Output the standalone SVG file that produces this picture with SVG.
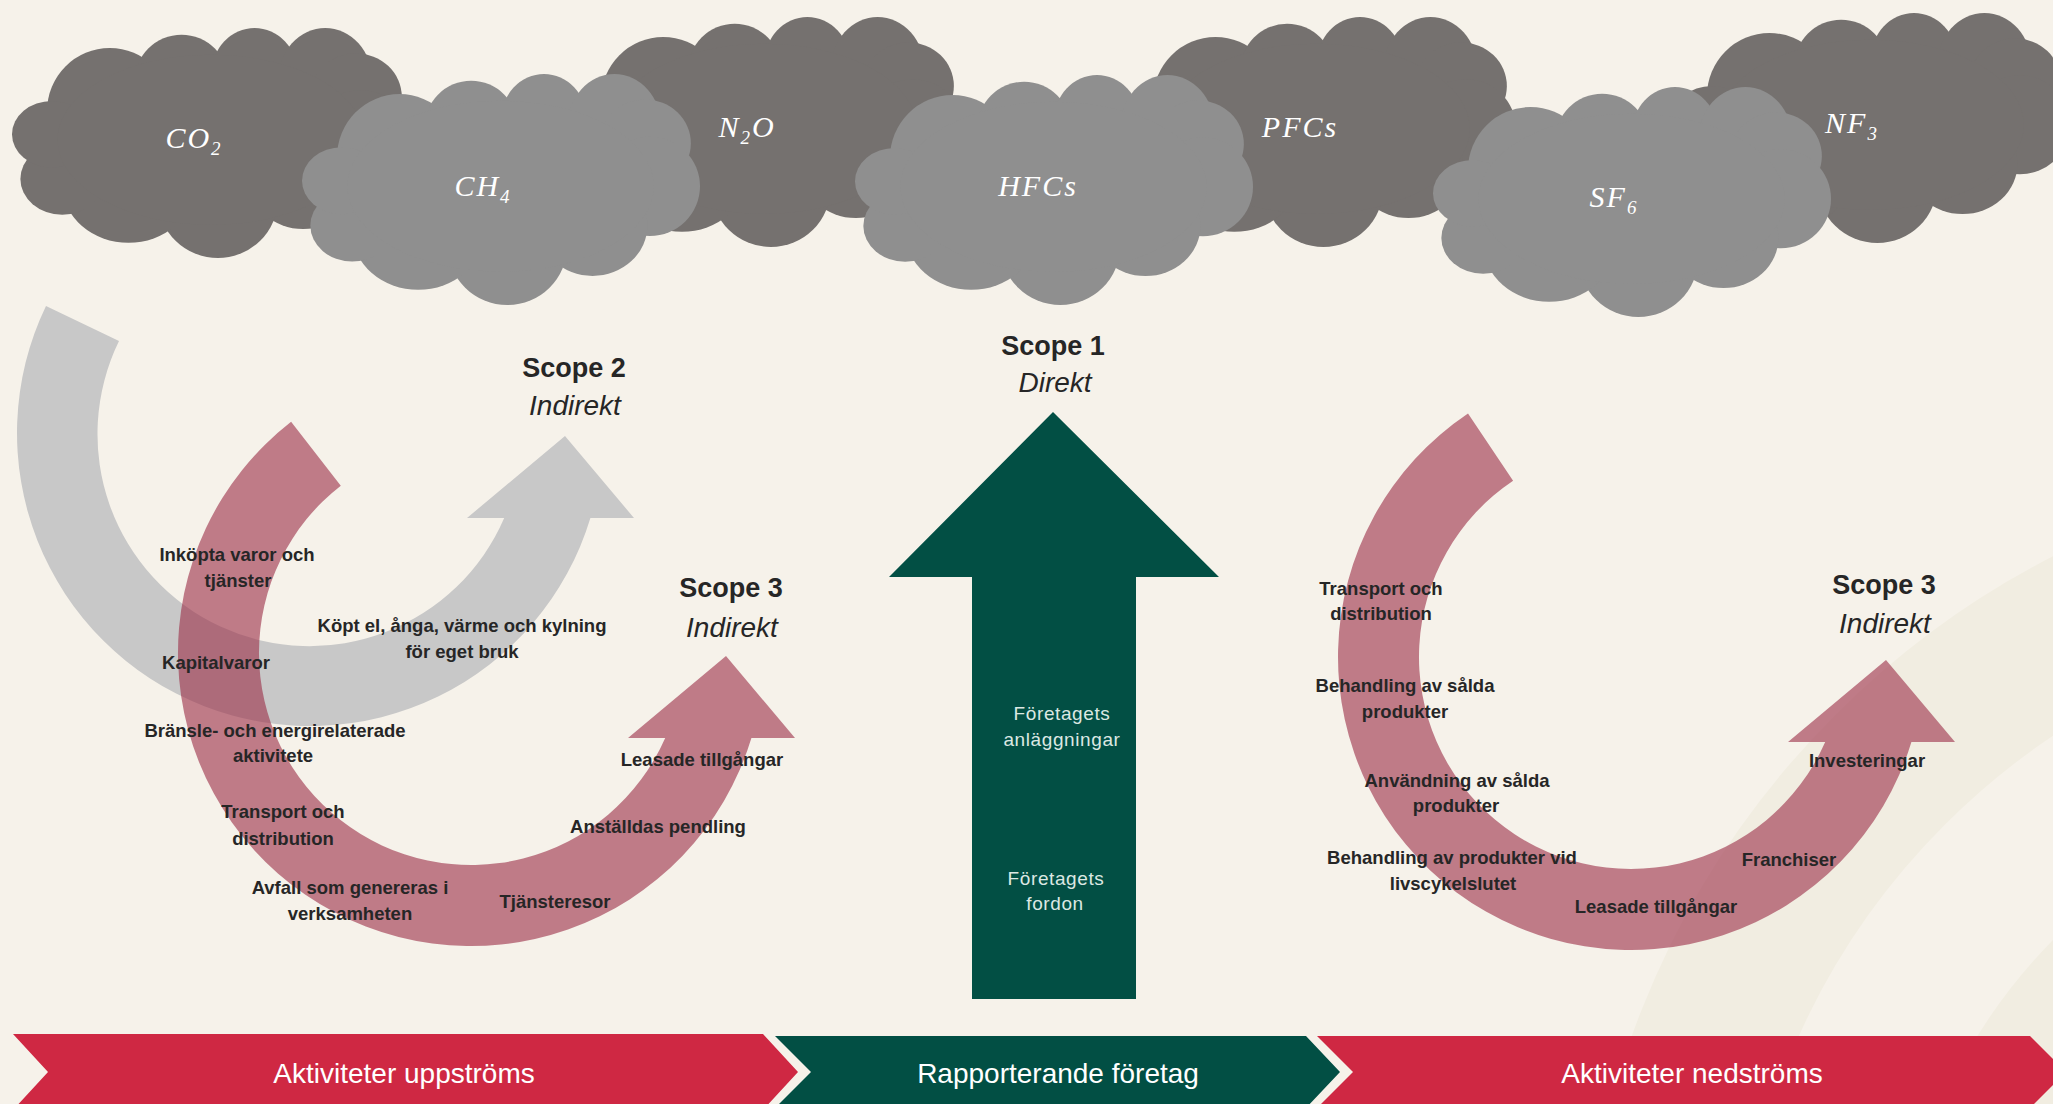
<svg xmlns="http://www.w3.org/2000/svg" xmlns:xlink="http://www.w3.org/1999/xlink" width="2053" height="1104" viewBox="0 0 2053 1104">
<defs>
<style>
.dark{fill:#75716F}
.light{fill:#8F8F8F}
.gas{font-family:"Liberation Serif","DejaVu Serif",serif;font-style:italic;font-size:30px;fill:#FFFFFF;letter-spacing:2px;text-anchor:middle}
.sub{font-size:19px}
.lbl{font-family:"Liberation Sans",Arial,sans-serif;font-weight:bold;font-size:18.5px;fill:#262626;text-anchor:middle}
.scope{font-family:"Liberation Sans",Arial,sans-serif;font-weight:bold;font-size:27px;fill:#262626;text-anchor:middle}
.ind{font-family:"Liberation Sans",Arial,sans-serif;font-style:italic;font-size:28px;fill:#262626;text-anchor:middle}
.wt{font-family:"Liberation Sans",Arial,sans-serif;font-size:19px;fill:#DCE8E3;letter-spacing:0.6px;text-anchor:middle}
.chev{font-family:"Liberation Sans",Arial,sans-serif;font-size:28px;fill:#FFFFFF;text-anchor:middle}
.redarc{fill:rgb(156,50,74);fill-opacity:0.62}
</style>
<symbol id="cloud" viewBox="0 0 1000 1000" preserveAspectRatio="none">
<ellipse cx="245" cy="360" rx="157" ry="273"/>
<ellipse cx="425" cy="235" rx="118" ry="206"/>
<ellipse cx="608" cy="200" rx="108" ry="200"/>
<ellipse cx="785" cy="228" rx="118" ry="228"/>
<ellipse cx="862" cy="300" rx="115" ry="190"/>
<ellipse cx="874" cy="486" rx="126" ry="215"/>
<ellipse cx="730" cy="655" rx="138" ry="219"/>
<ellipse cx="516" cy="744" rx="150" ry="256"/>
<ellipse cx="292" cy="686" rx="165" ry="248"/>
<ellipse cx="126" cy="656" rx="105" ry="156"/>
<ellipse cx="100" cy="462" rx="100" ry="145"/>
<ellipse cx="499" cy="486" rx="385" ry="370"/>
</symbol>
</defs>
<rect width="2053" height="1104" fill="#F6F2EA"/>
<g id="background-bands" fill="none" stroke="#F1EDE1">
<circle cx="2450" cy="1330" r="792" stroke-width="155"/>
<circle cx="2450" cy="1330" r="478" stroke-width="157"/>
</g>
<g id="clouds-back">
<g id="cloud-co2"><use xlink:href="#cloud" href="#cloud" class="dark" x="12" y="28" width="399" height="230"/><text class="gas" x="194" y="148">CO<tspan class="sub" dy="7">2</tspan></text></g>
<g id="cloud-n2o"><use xlink:href="#cloud" href="#cloud" class="dark" x="566" y="17" width="397" height="230"/><text class="gas" x="747" y="137">N<tspan class="sub" dy="7">2</tspan><tspan dy="-7">O</tspan></text></g>
<g id="cloud-pfcs"><use xlink:href="#cloud" href="#cloud" class="dark" x="1118" y="17" width="398" height="230"/><text class="gas" x="1300" y="137">PFCs</text></g>
<g id="cloud-nf3"><use xlink:href="#cloud" href="#cloud" class="dark" x="1672" y="13" width="398" height="230"/><text class="gas" x="1852" y="133">NF<tspan class="sub" dy="7">3</tspan></text></g>
</g>
<g id="clouds-front">
<g id="cloud-ch4"><use xlink:href="#cloud" href="#cloud" class="light" x="302" y="74" width="398" height="231"/><text class="gas" x="483" y="196">CH<tspan class="sub" dy="7">4</tspan></text></g>
<g id="cloud-hfcs"><use xlink:href="#cloud" href="#cloud" class="light" x="855" y="75" width="398" height="230"/><text class="gas" x="1038" y="196">HFCs</text></g>
<g id="cloud-sf6"><use xlink:href="#cloud" href="#cloud" class="light" x="1433" y="87" width="398" height="230"/><text class="gas" x="1614" y="207">SF<tspan class="sub" dy="7">6</tspan></text></g>
</g>
<g id="connectors">
<path id="arrow-scope2" fill="#C8C8C8" d="M46,305.9 A293,293 0 1,0 590.4,518 L634,518 L565,436 L467,518 L504.2,518 A212,212 0 1,1 119,341.1 Z"/>
<path id="arrow-scope3-up" class="redarc" d="M291.1,421.8 A293,293 0 1,0 751.4,738 L795,738 L726,656 L628,738 L665.2,738 A212,212 0 1,1 340.8,485.7 Z"/>
<path id="arrow-scope3-down" class="redarc" d="M1468,413.5 A293,293 0 1,0 1911.4,742 L1955,742 L1886,660 L1788,742 L1825.2,742 A212,212 0 1,1 1513.1,480.8 Z"/>
</g>
<g id="scope1-arrow">
<path fill="#024F44" d="M1053,412 L1219,577 L1136,577 L1136,999 L972,999 L972,577 L889,577 Z"/>
<text class="wt" x="1062" y="720">Företagets</text>
<text class="wt" x="1062" y="746">anläggningar</text>
<text class="wt" x="1056" y="885">Företagets</text>
<text class="wt" x="1055" y="910">fordon</text>
</g>
<g id="scope-titles">
<g id="scope2-title"><text class="scope" x="574" y="377">Scope 2</text><text class="ind" x="575" y="415">Indirekt</text></g>
<g id="scope1-title"><text class="scope" x="1053" y="355">Scope 1</text><text class="ind" x="1055" y="392">Direkt</text></g>
<g id="scope3-up-title"><text class="scope" x="731" y="597">Scope 3</text><text class="ind" x="732" y="637">Indirekt</text></g>
<g id="scope3-down-title"><text class="scope" x="1884" y="594">Scope 3</text><text class="ind" x="1885" y="633">Indirekt</text></g>
</g>
<g id="upstream-labels">
<text class="lbl" x="237" y="561">Inköpta varor och</text>
<text class="lbl" x="238" y="587">tjänster</text>
<text class="lbl" x="462" y="632">Köpt el, ånga, värme och kylning</text>
<text class="lbl" x="462" y="658">för eget bruk</text>
<text class="lbl" x="216" y="669">Kapitalvaror</text>
<text class="lbl" x="275" y="737">Bränsle- och energirelaterade</text>
<text class="lbl" x="273" y="762">aktivitete</text>
<text class="lbl" x="283" y="818">Transport och</text>
<text class="lbl" x="283" y="845">distribution</text>
<text class="lbl" x="350" y="894">Avfall som genereras i</text>
<text class="lbl" x="350" y="920">verksamheten</text>
<text class="lbl" x="555" y="908">Tjänsteresor</text>
<text class="lbl" x="658" y="833">Anställdas pendling</text>
<text class="lbl" x="702" y="766">Leasade tillgångar</text>
</g>
<g id="downstream-labels">
<text class="lbl" x="1381" y="595">Transport och</text>
<text class="lbl" x="1381" y="620">distribution</text>
<text class="lbl" x="1405" y="692">Behandling av sålda</text>
<text class="lbl" x="1405" y="718">produkter</text>
<text class="lbl" x="1457" y="787">Användning av sålda</text>
<text class="lbl" x="1456" y="812">produkter</text>
<text class="lbl" x="1452" y="864">Behandling av produkter vid</text>
<text class="lbl" x="1453" y="890">livscykelslutet</text>
<text class="lbl" x="1656" y="913">Leasade tillgångar</text>
<text class="lbl" x="1789" y="866">Franchiser</text>
<text class="lbl" x="1867" y="767">Investeringar</text>
</g>
<g id="chevron-upstream">
<path fill="#CF2843" d="M13,1034 L763,1034 L798,1072 L763,1110 L13,1110 L48,1072 Z"/>
<text class="chev" x="404" y="1083">Aktiviteter uppströms</text>
</g>
<g id="chevron-company">
<path fill="#024F44" d="M775,1036 L1306,1036 L1340,1072 L1306,1108 L775,1108 L811,1072 Z"/>
<text class="chev" x="1058" y="1083">Rapporterande företag</text>
</g>
<g id="chevron-downstream">
<path fill="#CF2843" d="M1317,1036 L2030,1036 L2066,1072 L2030,1108 L1317,1108 L1353,1072 Z"/>
<text class="chev" x="1692" y="1083">Aktiviteter nedströms</text>
</g>
</svg>
